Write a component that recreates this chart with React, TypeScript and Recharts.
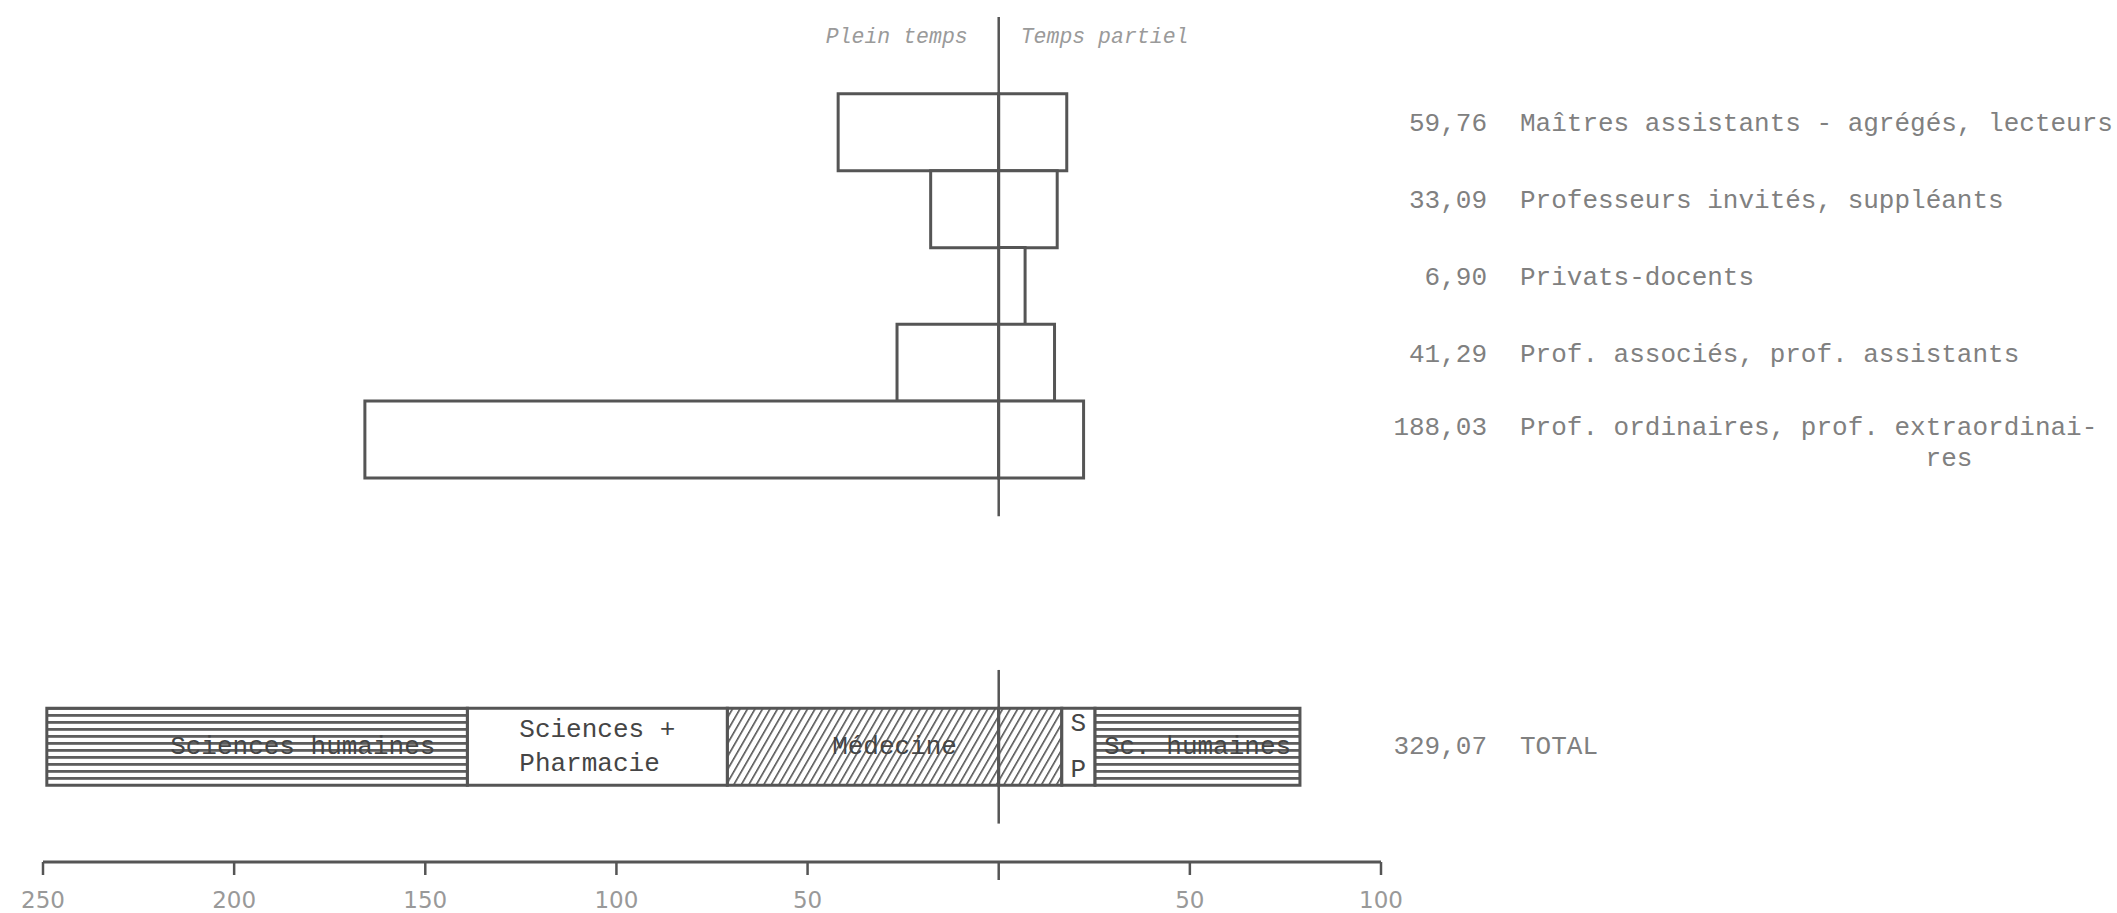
import React from 'react';
import { BarChart, Bar, XAxis, YAxis, ReferenceLine, LabelList } from 'recharts';

// staff categories (top to bottom), full time to the left, part time to the right
const rowLabels = [
  'Maîtres assistants - agrégés, lecteurs',
  'Professeurs invités, suppléants',
  'Privats-docents',
  'Prof. associés, prof. assistants',
  'Prof. ordinaires, prof. extraordinai-',
];
const rowLabelsCont = ['', '', '', '', 'res'];
const rowTotals = ['59,76', '33,09', '6,90', '41,29', '188,03'];
const fullTime = [42.0, 17.8, 0, 26.6, 165.8];
const partTime = [17.8, 15.3, 6.9, 14.6, 22.2];

// total bar split by faculty, read from the centre outwards
const totalLabel = 'TOTAL';
const totalValue = '329,07';
const fullTimeSegments = ['Médecine', 'Sciences +\nPharmacie', 'Sciences humaines'];
const fullTimeSegmentValues = [71, 68, 110];
const partTimeSegments = ['Médecine', 'S\nP', 'Sc. humaines'];
const partTimeSegmentValues = [16.5, 8.7, 53.6];

const xTicks = [-250, -200, -150, -100, -50, 0, 50, 100];
const sideLabels = ['Plein temps', 'Temps partiel'];

const INK = '#555';
const MONO = '"Liberation Mono", "DejaVu Sans Mono", monospace';
const CHAR_W = 15.6;

const leftKeys = fullTimeSegments.map((_, i) => `l${i}`);
const rightKeys = partTimeSegments.map((_, i) => `r${i}`);

const totalRow: Record<string, any> = { key: 'total' };
leftKeys.forEach((k, i) => (totalRow[k] = -fullTimeSegmentValues[i]));
rightKeys.forEach((k, i) => (totalRow[k] = partTimeSegmentValues[i]));

const data = [
  { key: 'top' },
  ...rowLabels.map((_, i) => ({
    key: `row${i}`,
    ft: fullTime[i] ? -fullTime[i] : null,
    pt: partTime[i] ? partTime[i] : null,
  })),
  { key: 'gap1' },
  { key: 'gap2' },
  { key: 'gap3' },
  totalRow,
  { key: 'bottom' },
];

const segmentFill = (name: string) => {
  if (name === 'Médecine') return 'url(#diag)';
  if (name.includes('humaines')) return 'url(#hstripe)';
  return '#fff';
};

// extend: how much wider the label box is than this bar (Médecine spans both sides)
// padRight: right-align the text that far from the segment's right edge
const makeSegmentLabel = (name: string, extend: number, padRight?: number) => (props: any) => {
  const { x, y, width, height, value } = props;
  if (!value || !width) return null;
  const left = Math.min(x, x + width);
  const w = Math.abs(width);
  const fullW = w * extend;
  const cx = left + fullW / 2;
  const cy = y + height / 2;
  const lines = name.split('\n');
  const maxLen = Math.max(...lines.map((l) => l.length));
  const startX = padRight != null ? left + fullW - padRight - maxLen * CHAR_W : cx - (maxLen * CHAR_W) / 2;
  const lh = lines.length > 1 && maxLen === 1 ? 46 : 34;
  return (
    <g>
      {lines.map((l, i) => (
        <text
          key={i}
          x={startX}
          y={cy + (i - (lines.length - 1) / 2) * lh}
          dominantBaseline="central"
          fontFamily={MONO}
          fontSize={26}
          fill="#454545"
        >
          {l}
        </text>
      ))}
    </g>
  );
};

const AxisTick = (props: any) => {
  const { x, y, payload } = props;
  const v = payload.value;
  return (
    <g>
      <line x1={x} x2={x} y1={y} y2={y + (v === 0 ? 18 : 13)} stroke={INK} strokeWidth={2.5} />
      {v !== 0 && (
        <text
          x={x}
          y={y + 38}
          textAnchor="middle"
          dominantBaseline="central"
          fontFamily='"DejaVu Sans", sans-serif'
          fontSize={23}
          fill="#999"
        >
          {Math.abs(v)}
        </text>
      )}
    </g>
  );
};

const RowTick = (props: any) => {
  const { x, y, payload } = props;
  const key: string = payload.value;
  let num = '';
  let lines: string[] = [];
  let dy = 0;
  if (key.startsWith('row')) {
    const i = Number(key.slice(3));
    num = rowTotals[i];
    lines = [rowLabels[i], rowLabelsCont[i]];
    dy = lines[1] ? -12 : -8;
  } else if (key === 'total') {
    num = totalValue;
    lines = [totalLabel];
  } else {
    return null;
  }
  const style = { fontFamily: MONO, fontSize: 26, fill: '#808080' };
  return (
    <g>
      <text x={x + 106} y={y + dy} textAnchor="end" dominantBaseline="central" {...style}>
        {num}
      </text>
      <text x={x + 139} y={y + dy} dominantBaseline="central" {...style}>
        {lines[0]}
      </text>
      {lines[1] ? (
        <text x={x + 139 + 26 * CHAR_W} y={y + dy + 31} dominantBaseline="central" {...style}>
          {lines[1]}
        </text>
      ) : null}
    </g>
  );
};

const CentreLine = (props: any) => {
  const { x1, y1, y2 } = props;
  const top = Math.min(y1, y2);
  const bottom = Math.max(y1, y2);
  const band = (bottom - top) / data.length;
  const gapStart = data.findIndex((d) => d.key === 'gap1');
  const totalIdx = data.findIndex((d) => d.key === 'total');
  return (
    <g>
      <line x1={x1} x2={x1} y1={top} y2={top + (gapStart + 0.5) * band} stroke={INK} strokeWidth={2.5} />
      <line
        x1={x1}
        x2={x1}
        y1={top + (totalIdx - 0.5) * band}
        y2={top + (totalIdx + 1.5) * band}
        stroke={INK}
        strokeWidth={2.5}
      />
      <text
        x={x1 - 31}
        y={top + 20}
        textAnchor="end"
        dominantBaseline="central"
        fontFamily={MONO}
        fontStyle="italic"
        fontSize={21.5}
        fill="#9a9a9a"
      >
        {sideLabels[0]}
      </text>
      <text
        x={x1 + 22}
        y={top + 20}
        dominantBaseline="central"
        fontFamily={MONO}
        fontStyle="italic"
        fontSize={21.5}
        fill="#9a9a9a"
      >
        {sideLabels[1]}
      </text>
    </g>
  );
};

export default function App() {
  return (
    <div style={{ position: 'absolute', left: 0, top: 0, width: 2117, height: 913, background: '#fff' }}>
      <BarChart
        width={2117}
        height={913}
        data={data}
        layout="vertical"
        stackOffset="sign"
        barCategoryGap={0}
        margin={{ top: 17, right: 0, bottom: 0, left: 43 }}
      >
        <defs>
          <pattern id="hstripe" patternUnits="userSpaceOnUse" width={10} height={7}>
            <rect width={10} height={7} fill="#fff" />
            <rect width={10} height={2.8} fill="#5e5e5e" />
          </pattern>
          <pattern id="diag" patternUnits="userSpaceOnUse" width={6.5} height={10} patternTransform="rotate(30)">
            <rect width={6.5} height={10} fill="#fff" />
            <rect width={1.6} height={10} fill="#555" />
          </pattern>
        </defs>
        <XAxis
          type="number"
          domain={[-250, 100]}
          ticks={xTicks}
          interval={0}
          height={51}
          tickSize={0}
          tickMargin={0}
          tickLine={false}
          axisLine={{ stroke: INK, strokeWidth: 3 }}
          tick={<AxisTick />}
        />
        <YAxis
          type="category"
          dataKey="key"
          orientation="right"
          width={736}
          interval={0}
          tickSize={0}
          tickMargin={0}
          tickLine={false}
          axisLine={false}
          tick={<RowTick />}
        />
        <Bar dataKey="ft" stackId="s" fill="#fff" stroke={INK} strokeWidth={3} isAnimationActive={false} />
        <Bar dataKey="pt" stackId="s" fill="#fff" stroke={INK} strokeWidth={3} isAnimationActive={false} />
        {leftKeys.map((k, i) => (
          <Bar
            key={k}
            dataKey={k}
            stackId="s"
            fill={segmentFill(fullTimeSegments[i])}
            stroke={INK}
            strokeWidth={3}
            isAnimationActive={false}
          >
            <LabelList
              dataKey={k}
              content={makeSegmentLabel(
                fullTimeSegments[i],
                fullTimeSegments[i] === partTimeSegments[i]
                  ? (fullTimeSegmentValues[i] + partTimeSegmentValues[i]) / fullTimeSegmentValues[i]
                  : 1,
                i === leftKeys.length - 1 ? 32 : undefined
              )}
            />
          </Bar>
        ))}
        {rightKeys.map((k, i) => (
          <Bar
            key={k}
            dataKey={k}
            stackId="s"
            fill={segmentFill(partTimeSegments[i])}
            stroke={INK}
            strokeWidth={3}
            isAnimationActive={false}
          >
            {partTimeSegments[i] !== fullTimeSegments[i] && (
              <LabelList dataKey={k} content={makeSegmentLabel(partTimeSegments[i], 1)} />
            )}
          </Bar>
        ))}
        <ReferenceLine x={0} shape={(p: any) => <CentreLine {...p} />} />
      </BarChart>
    </div>
  );
}
